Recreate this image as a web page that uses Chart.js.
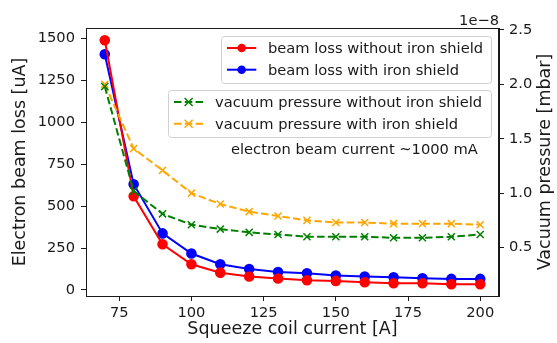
<!DOCTYPE html>
<html>
<head>
<meta charset="utf-8">
<script src="https://cdn.jsdelivr.net/npm/chart.js@4"></script>
<style>
  body { margin: 0; background: #fff; }
  canvas { display: block; }
</style>
</head>
<body>
<canvas id="myChart" width="557" height="343"></canvas>
<script>
// squeeze coil current [A]
const coilCurrent = [70, 80, 90, 100, 110, 120, 130, 140, 150, 160, 170, 180, 190, 200]
// electron beam loss [uA]
const lossNoShield = [1488, 558, 272, 153, 103, 80, 68, 58, 54, 46, 40, 40, 34, 34]
const lossShield = [1405, 630, 337, 217, 153, 125, 107, 99, 86, 80, 76, 70, 66, 66]
// vacuum pressure [1e-8 mbar]
const pressNoShield = [1.98, 1.02, 0.81, 0.71, 0.67, 0.64, 0.62, 0.60, 0.60, 0.60, 0.59, 0.59, 0.60, 0.62]
const pressShield = [2.00, 1.41, 1.21, 1.00, 0.90, 0.83, 0.79, 0.75, 0.73, 0.73, 0.72, 0.72, 0.72, 0.71]

const xTicks = [75, 100, 125, 150, 175, 200]
const lossTicks = [0, 250, 500, 750, 1000, 1250, 1500]
const pressTicks = [0.5, 1.0, 1.5, 2.0, 2.5]

const FONT = "DejaVu Sans"
const FS = 14.67     // ticks, legend, note
const FS_LABEL = 17.5 // axis titles
const INK = "#1a1a1a"

function pts(ys){
    return coilCurrent.map((x, i) => ({x: x, y: ys[i]}))
}

const legend1 = [
    {label: "beam loss without iron shield", color: "red", dash: [], style: "circle"},
    {label: "beam loss with iron shield", color: "blue", dash: [], style: "circle"}
]
const legend2 = [
    {label: "vacuum pressure without iron shield", color: "green", dash: [7.5, 3.3], style: "x"},
    {label: "vacuum pressure with iron shield", color: "orange", dash: [7.5, 3.3], style: "x"}
]

function roundBox(ctx, x, y, w, h, r){
    ctx.beginPath()
    ctx.moveTo(x + r, y)
    ctx.lineTo(x + w - r, y)
    ctx.arcTo(x + w, y, x + w, y + r, r)
    ctx.lineTo(x + w, y + h - r)
    ctx.arcTo(x + w, y + h, x + w - r, y + h, r)
    ctx.lineTo(x + r, y + h)
    ctx.arcTo(x, y + h, x, y + h - r, r)
    ctx.lineTo(x, y + r)
    ctx.arcTo(x, y, x + r, y, r)
    ctx.closePath()
}

function drawLegend(ctx, items, left, top, right, bottom){
    ctx.save()
    roundBox(ctx, left + 0.5, top + 0.5, right - left, bottom - top, 3)
    ctx.fillStyle = "rgba(255,255,255,0.8)"
    ctx.fill()
    ctx.strokeStyle = "#d0d0d0"
    ctx.lineWidth = 1
    ctx.stroke()
    const rowH = 21.7
    const pad = 6
    items.forEach((it, i) => {
        const cy = top + 12 + i * rowH
        const hx0 = left + pad, hx1 = hx0 + 29.3
        ctx.strokeStyle = it.color
        ctx.lineWidth = 2
        ctx.setLineDash(it.dash)
        ctx.beginPath()
        ctx.moveTo(hx0, cy)
        ctx.lineTo(hx1, cy)
        ctx.stroke()
        ctx.setLineDash([])
        const mx = (hx0 + hx1) / 2
        if (it.style === "circle"){
            ctx.fillStyle = it.color
            ctx.beginPath()
            ctx.arc(mx, cy, 4.3, 0, Math.PI * 2)
            ctx.fill()
        } else {
            ctx.lineWidth = 1.5
            ctx.beginPath()
            ctx.moveTo(mx - 4, cy - 4); ctx.lineTo(mx + 4, cy + 4)
            ctx.moveTo(mx - 4, cy + 4); ctx.lineTo(mx + 4, cy - 4)
            ctx.stroke()
        }
        ctx.fillStyle = INK
        ctx.font = FS + "px '" + FONT + "'"
        ctx.textAlign = "left"
        ctx.textBaseline = "middle"
        ctx.fillText(it.label, hx1 + 11.7, cy + 1)
    })
    ctx.restore()
}

const extras = {
    id: "extras",
    afterDatasetsDraw(chart){
        const ctx = chart.ctx
        const a = chart.chartArea
        ctx.save()
        // frame on all four sides
        ctx.strokeStyle = INK
        ctx.lineWidth = 1
        ctx.strokeRect(Math.round(a.left) + 0.5, Math.round(a.top) + 0.5,
            Math.round(a.right - a.left) - 1, Math.round(a.bottom - a.top))
        drawLegend(ctx, legend1, 221, 36, 491, 83)
        drawLegend(ctx, legend2, 168, 90, 491, 137)
        ctx.fillStyle = INK
        ctx.font = FS + "px '" + FONT + "'"
        ctx.textBaseline = "middle"
        ctx.textAlign = "left"
        ctx.fillText("electron beam current ~1000 mA", 231, 150)
        ctx.textAlign = "right"
        ctx.textBaseline = "alphabetic"
        ctx.fillText("1e\u22128", a.right, 25)
        // right axis title, reading bottom to top like matplotlib
        ctx.translate(545, (a.top + a.bottom) / 2)
        ctx.rotate(-Math.PI / 2)
        ctx.font = FS_LABEL + "px '" + FONT + "'"
        ctx.textAlign = "center"
        ctx.textBaseline = "middle"
        ctx.fillText("Vacuum pressure [mbar]", 0, 0)
        ctx.restore()
    }
}

const tickFont = {family: FONT, size: FS}
const labelFont = {family: FONT, size: FS_LABEL}

new Chart(document.getElementById("myChart"), {
    type: "line",
    data: {
        datasets: [
            {label: "beam loss without iron shield", data: pts(lossNoShield), yAxisID: "y",
             borderColor: "red", backgroundColor: "red", borderWidth: 2,
             pointStyle: "circle", pointRadius: 4.3, order: 2},
            {label: "beam loss with iron shield", data: pts(lossShield), yAxisID: "y",
             borderColor: "blue", backgroundColor: "blue", borderWidth: 2,
             pointStyle: "circle", pointRadius: 4.3, order: 2},
            {label: "vacuum pressure without iron shield", data: pts(pressNoShield), yAxisID: "y2",
             borderColor: "green", backgroundColor: "green", borderWidth: 2, borderDash: [7.5, 3.3],
             pointStyle: "crossRot", pointRadius: 5, pointBorderWidth: 1.5, order: 1},
            {label: "vacuum pressure with iron shield", data: pts(pressShield), yAxisID: "y2",
             borderColor: "orange", backgroundColor: "orange", borderWidth: 2, borderDash: [7.5, 3.3],
             pointStyle: "crossRot", pointRadius: 5, pointBorderWidth: 1.5, order: 1}
        ]
    },
    options: {
        responsive: false,
        animation: false,
        layout: {padding: {top: 28, left: 0, right: 0, bottom: 0}},
        plugins: {legend: {display: false}, tooltip: {enabled: false}},
        scales: {
            x: {
                type: "linear", min: 63.5, max: 206.5,
                afterBuildTicks: s => { s.ticks = xTicks.map(v => ({value: v})) },
                afterFit: s => { s.height = 47 },
                grid: {drawOnChartArea: false, drawTicks: true, tickLength: 5, color: INK},
                border: {display: true, color: INK},
                ticks: {font: tickFont, color: INK, padding: 3, maxRotation: 0, autoSkip: false,
                        callback: v => String(v)},
                title: {display: true, text: "Squeeze coil current [A]", font: labelFont, color: INK,
                        padding: {top: 0, bottom: 3}}
            },
            y: {
                position: "left", min: -36, max: 1561,
                afterBuildTicks: s => { s.ticks = lossTicks.map(v => ({value: v})) },
                afterFit: s => { s.width = 86 },
                grid: {drawOnChartArea: false, drawTicks: true, tickLength: 5, color: INK},
                border: {display: true, color: INK},
                ticks: {font: tickFont, color: INK, padding: 6, callback: v => String(v)},
                title: {display: true, text: "Electron beam loss [uA]", font: labelFont, color: INK,
                        padding: {top: 9.5, bottom: 0}}
            },
            y2: {
                position: "right", min: 0.055, max: 2.518,
                afterBuildTicks: s => { s.ticks = pressTicks.map(v => ({value: v})) },
                afterFit: s => { s.width = 58 },
                grid: {drawOnChartArea: false, drawTicks: true, tickLength: 5, color: INK},
                border: {display: true, color: INK},
                ticks: {font: tickFont, color: INK, padding: 5, callback: v => v.toFixed(1)},
                title: {display: false}
            }
        }
    },
    plugins: [extras]
})
</script>
</body>
</html>
